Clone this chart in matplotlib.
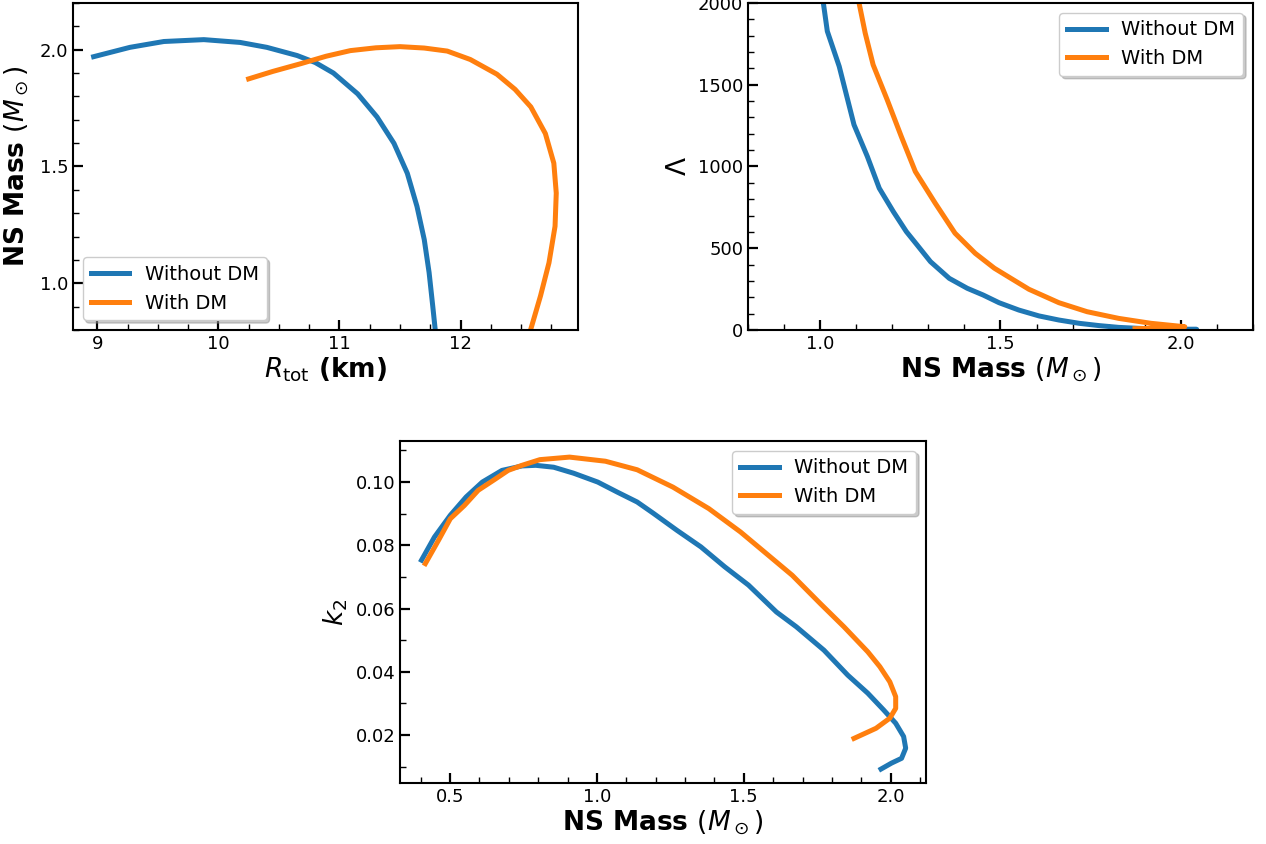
import matplotlib
matplotlib.use("Agg")
import matplotlib.pyplot as plt
from matplotlib.ticker import MultipleLocator

# ---- Mass-Radius data ----
R_noDM = [8.97, 9.27, 9.55, 9.88, 10.18, 10.40, 10.65, 10.80, 10.95, 11.15, 11.31, 11.45, 11.56, 11.64, 11.70,
          11.74, 11.77, 11.79, 11.81]
M_noDM = [1.970, 2.010, 2.035, 2.043, 2.031, 2.010, 1.975, 1.945, 1.900, 1.811, 1.712, 1.599, 1.471, 1.329, 1.187,
          1.046, 0.903, 0.804, 0.70]
R_DM = [10.25, 10.45, 10.68, 10.89, 11.09, 11.30, 11.50, 11.70, 11.89, 12.08, 12.30, 12.45, 12.58, 12.70,
        12.77, 12.79, 12.78, 12.73, 12.66, 12.58, 12.52]
M_DM = [1.875, 1.907, 1.940, 1.972, 1.996, 2.008, 2.013, 2.007, 1.994, 1.958, 1.895, 1.830, 1.755, 1.641,
        1.514, 1.386, 1.244, 1.088, 0.946, 0.804, 0.70]

# ---- Tidal deformability data ----
ML_noDM = [0.995, 1.009, 1.02, 1.053, 1.094, 1.131, 1.164, 1.203, 1.239, 1.269, 1.306, 1.358, 1.408, 1.452,
           1.496, 1.551, 1.607, 1.662, 1.718, 1.773, 1.828, 1.884, 1.94, 2.044, 2.0, 1.97]
Lam_noDM = [2300, 2000, 1827, 1612, 1255, 1061, 867, 724, 602, 520, 418, 316, 255, 214,
            167, 122, 86, 61, 41, 27, 16, 10, 6, 4, 3, 2]
ML_DM = [1.095, 1.108, 1.125, 1.147, 1.186, 1.225, 1.264, 1.319, 1.374, 1.43, 1.483, 1.529, 1.579, 1.662,
         1.74, 1.828, 1.917, 2.011, 1.95, 1.873]
Lam_DM = [2250, 2000, 1816, 1622, 1408, 1184, 969, 776, 592, 469, 378, 316, 249, 167,
          112, 71, 41, 20, 12, 8]

# ---- Love number data ----
Mk_noDM = [0.403, 0.447, 0.501, 0.555, 0.61, 0.677, 0.745, 0.792, 0.853, 0.921, 1.003, 1.07, 1.137, 1.191,
           1.273, 1.354, 1.435, 1.516, 1.611, 1.679, 1.773, 1.854, 1.922, 1.976, 2.017, 2.044, 2.051,
           2.037, 2.003, 1.967]
k2_noDM = [0.0753, 0.0826, 0.0895, 0.0953, 0.1000, 0.1037, 0.1051, 0.1053, 0.1047, 0.1028, 0.1000, 0.0968,
           0.0937, 0.0902, 0.0847, 0.0795, 0.0732, 0.0674, 0.0589, 0.0542, 0.0468, 0.0389, 0.0332, 0.0279,
           0.0237, 0.0195, 0.0158, 0.0126, 0.0111, 0.0092]
Mk_DM = [0.416, 0.461, 0.501, 0.549, 0.596, 0.65, 0.698, 0.745, 0.806, 0.907, 1.029, 1.137, 1.259, 1.381,
         1.489, 1.57, 1.665, 1.76, 1.841, 1.922, 1.963, 1.997, 2.017, 2.017, 1.997, 1.95, 1.875]
k2_DM = [0.0742, 0.0816, 0.0884, 0.0926, 0.0974, 0.1007, 0.1037, 0.1053, 0.1071, 0.1079, 0.1066, 0.1039,
         0.0984, 0.0916, 0.0842, 0.0779, 0.0705, 0.0616, 0.0542, 0.0463, 0.0416, 0.0368, 0.0321, 0.0284,
         0.0253, 0.0221, 0.0189]

labels = ["Without DM", "With DM"]
c_blue = "#1f77b4"
c_orange = "#ff7f0e"

fig = plt.figure(figsize=(12.66, 8.44), dpi=100)

ax1 = fig.add_axes([0.0577, 0.609, 0.3989, 0.3875])
ax2 = fig.add_axes([0.5908, 0.609, 0.3989, 0.3875])
ax3 = fig.add_axes([0.316, 0.0723, 0.4154, 0.4052])

LW = 3.6
TICK_FS = 13
LABEL_FS = 19
LEG_FS = 14
SHADOW = {"color": "0.55", "alpha": 0.45}


def style(ax, xmaj, xmin, ymaj, ymin):
    ax.xaxis.set_major_locator(MultipleLocator(xmaj))
    ax.xaxis.set_minor_locator(MultipleLocator(xmin))
    ax.yaxis.set_major_locator(MultipleLocator(ymaj))
    ax.yaxis.set_minor_locator(MultipleLocator(ymin))
    ax.tick_params(which="both", direction="in", labelsize=TICK_FS)
    ax.tick_params(which="major", length=7, width=1.6)
    ax.tick_params(which="minor", length=4, width=1.0)
    for s in ax.spines.values():
        s.set_linewidth(1.5)


mass_label = r"NS Mass $(M_\odot)$"

# Panel 1: M-R
ax1.plot(R_noDM, M_noDM, color=c_blue, lw=LW, label=labels[0])
ax1.plot(R_DM, M_DM, color=c_orange, lw=LW, label=labels[1])
ax1.set_xlim(8.8, 12.97)
ax1.set_ylim(0.8, 2.2)
style(ax1, 1, 0.25, 0.5, 0.1)
ax1.set_xlabel(r"$R_{\rm tot}$ (km)", fontsize=LABEL_FS, fontweight="bold", labelpad=2)
ax1.set_ylabel(mass_label, fontsize=LABEL_FS, fontweight="bold", labelpad=6)
ax1.legend(loc="lower left", fontsize=LEG_FS, shadow=SHADOW, fancybox=True)

# Panel 2: Lambda-M
ax2.plot(ML_noDM, Lam_noDM, color=c_blue, lw=LW, label=labels[0])
ax2.plot(ML_DM, Lam_DM, color=c_orange, lw=LW, label=labels[1])
ax2.set_xlim(0.8, 2.2)
ax2.set_ylim(0, 2000)
style(ax2, 0.5, 0.1, 500, 100)
ax2.set_xlabel(mass_label, fontsize=LABEL_FS, fontweight="bold", labelpad=2)
ax2.set_ylabel(r"$\Lambda$", fontsize=LABEL_FS, labelpad=4)
ax2.legend(loc="upper right", fontsize=LEG_FS, shadow=SHADOW, fancybox=True)

# Panel 3: k2-M
ax3.plot(Mk_noDM, k2_noDM, color=c_blue, lw=LW, label=labels[0])
ax3.plot(Mk_DM, k2_DM, color=c_orange, lw=LW, label=labels[1])
ax3.set_xlim(0.33, 2.12)
ax3.set_ylim(0.0048, 0.113)
style(ax3, 0.5, 0.1, 0.02, 0.01)
ax3.set_xlabel(mass_label, fontsize=LABEL_FS, fontweight="bold", labelpad=2)
ax3.set_ylabel(r"$k_2$", fontsize=LABEL_FS, labelpad=4)
ax3.legend(loc="upper right", fontsize=LEG_FS, shadow=SHADOW, fancybox=True)

fig.savefig("out.png", dpi=100)
